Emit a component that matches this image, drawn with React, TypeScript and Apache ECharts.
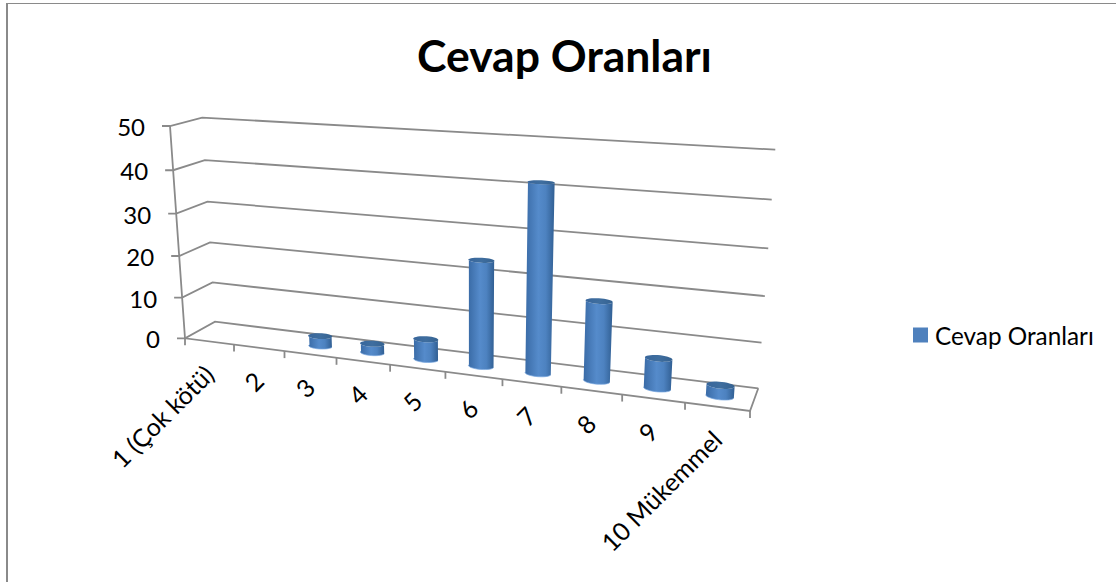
import React, { useEffect, useRef } from "react";
import * as echarts from "echarts";

const chartTitle = "Cevap Oranları";
const seriesName = "Cevap Oranları";
const categories = ["1 (Çok kötü)", "2", "3", "4", "5", "6", "7", "8", "9", "10 Mükemmel"];
const answerRates = [0, 0, 2.4, 2.1, 4.7, 24, 41.8, 17.6, 6.6, 2.4];
const valueTicks = [0, 10, 20, 30, 40, 50];

const FONT = "Lato, Carlito, sans-serif";
const GREY = "#8a8a8a";
const V_CENTER = 0.45;
const U_NUDGE = -0.003;
const BAR_RADIUS_BANDS = 0.22;
const BAR_RADIUS_DEPTH = 0.15;

// Projective map of the unit box (u along categories, v depth, w value) on to the page.
function project(u: number, v: number, w: number): [number, number] {
  const d = 1 - 0.145 * u + 0.0422 * v - 0.05 * w;
  const x = (456.25 * u + 39.07 * v - 23.5 * w + 185) / d;
  const y = (13.1 * u - 3.02 * v - 218.6 * w + 338.3) / d - 3.5 * u * w;
  return [x, y];
}

function toUnit(params: any, api: any, cat: number, val: number) {
  const cs = params.coordSys;
  const p = api.coord([cat, val]);
  return { u: (p[0] - cs.x) / cs.width, w: 1 - (p[1] - cs.y) / cs.height, band: api.size([1, 0])[0] / cs.width };
}

const lineStyle = { stroke: GREY, lineWidth: 1.8, fill: "none" };

function renderValueTick(params: any, api: any) {
  const tick = api.value(1);
  const { w } = toUnit(params, api, 0, tick);
  const a = project(0, 0, w);
  const b = project(0, 1, w);
  const c = project(1, 1, w);
  return {
    type: "group",
    children: [
      { type: "polyline", shape: { points: [[a[0] - 8, a[1]], a, b, c] }, style: lineStyle },
      {
        type: "text",
        style: { x: a[0] - 25, y: a[1] + 0.5, text: String(tick), align: "right", verticalAlign: "middle", fontSize: 24, fontFamily: FONT, fill: "#000" },
      },
    ],
  };
}

function renderCategoryTick(params: any, api: any) {
  const i = api.value(0);
  const { u, band } = toUnit(params, api, i, 0);
  const t = project(u - band / 2, 0, 0);
  const m = project(u, 0, 0);
  const children: any[] = [
    { type: "line", shape: { x1: t[0], y1: t[1], x2: t[0], y2: t[1] + 7 }, style: lineStyle },
    {
      type: "text",
      x: m[0] - 0.5,
      y: m[1] + 28,
      rotation: Math.PI / 4,
      style: { x: 0, y: 0, text: categories[i], align: "right", verticalAlign: "middle", fontSize: 25, fontFamily: FONT, fill: "#000" },
    },
  ];
  if (i === categories.length - 1) {
    const e = project(u + band / 2, 0, 0);
    children.push({ type: "line", shape: { x1: e[0], y1: e[1], x2: e[0], y2: e[1] + 7 }, style: lineStyle });
  }
  return { type: "group", children };
}

function renderFrame() {
  return {
    type: "group",
    children: [
      { type: "polyline", shape: { points: [project(0, 0, 1), project(0, 0, 0), project(1, 0, 0), project(1, 1, 0)] }, style: lineStyle },
    ],
  };
}

function ellipse(u: number, w: number, ru: number, from: number, to: number, n: number) {
  const pts: [number, number][] = [];
  for (let k = 0; k <= n; k++) {
    const t = from + ((to - from) * k) / n;
    pts.push(project(u + U_NUDGE + ru * Math.cos(t), V_CENTER + BAR_RADIUS_DEPTH * Math.sin(t), w));
  }
  return pts;
}

function renderCylinder(params: any, api: any) {
  const i = api.value(0);
  const val = api.value(1);
  if (!val) return null;
  const { u, w, band } = toUnit(params, api, i, val);
  const ru = band * BAR_RADIUS_BANDS;
  const front = ellipse(u, 0, ru, Math.PI, 2 * Math.PI, 16);
  const topFront = ellipse(u, w, ru, 2 * Math.PI, Math.PI, 16);
  const cap = ellipse(u, w, ru, 0, 2 * Math.PI, 32);
  return {
    type: "group",
    children: [
      {
        type: "polygon",
        shape: { points: [...front, ...topFront] },
        style: {
          fill: new echarts.graphic.LinearGradient(0, 0, 1, 0, [
            { offset: 0, color: "#3a6ba6" },
            { offset: 0.45, color: "#558bcb" },
            { offset: 0.7, color: "#4d82c0" },
            { offset: 1, color: "#315f93" },
          ]),
        },
      },
      { type: "polyline", shape: { points: front }, style: { stroke: "#7aa8e0", lineWidth: 1, fill: "none", opacity: 0.7 } },
      {
        type: "polygon",
        shape: { points: cap },
        style: {
          fill: new echarts.graphic.LinearGradient(0, 0, 1, 0, [
            { offset: 0, color: "#38669b" },
            { offset: 0.5, color: "#3f6e9f" },
            { offset: 1, color: "#356291" },
          ]),
        },
      },
    ],
  };
}

export default function App() {
  const ref = useRef<HTMLDivElement>(null);
  useEffect(() => {
    const chart = echarts.init(ref.current!, undefined, { renderer: "svg" });
    chart.setOption({
      animation: false,
      backgroundColor: "#fff",
      title: {
        text: chartTitle,
        left: 559.5,
        top: 27,
        textAlign: "center",
        textStyle: { fontFamily: FONT, fontWeight: "bold", fontSize: 44.5, color: "#000" },
      },
      legend: {
        data: [{ name: seriesName, icon: "rect" }],
        left: 913,
        top: 323,
        itemWidth: 15,
        itemHeight: 15,
        itemGap: 6,
        textStyle: { fontFamily: FONT, fontSize: 24.3, color: "#000", padding: [0, 0, 0, 2] },
        padding: 0,
      },
      grid: { left: 100, top: 100, width: 800, height: 400, show: false },
      xAxis: { type: "category", data: categories, show: false },
      yAxis: { type: "value", min: 0, max: 50, interval: 10, show: false },
      graphic: [
        { type: "line", silent: true, shape: { x1: 6, y1: 3.5, x2: 1116, y2: 3.5 }, style: { stroke: "#8a8a8a", lineWidth: 1 } },
        { type: "line", silent: true, shape: { x1: 7, y1: 3, x2: 7, y2: 582 }, style: { stroke: "#8a8a8a", lineWidth: 2 } },
      ],
      series: [
        { type: "custom", name: "frame", silent: true, clip: false, renderItem: renderFrame, data: [[0, 0]], z: 1 },
        { type: "custom", name: "values", silent: true, clip: false, renderItem: renderValueTick, data: valueTicks.map((t) => [0, t]), encode: { x: 0, y: 1 }, z: 2 },
        { type: "custom", name: "cats", silent: true, clip: false, renderItem: renderCategoryTick, data: categories.map((_, i) => [i, 0]), encode: { x: 0, y: 1 }, z: 2 },
        {
          type: "custom",
          name: seriesName,
          silent: true,
          clip: false,
          renderItem: renderCylinder,
          data: answerRates.map((v, i) => [i, v]),
          encode: { x: 0, y: 1 },
          itemStyle: { color: "#4F81BD" },
          z: 3,
        },
      ],
    });
    return () => chart.dispose();
  }, []);
  return <div ref={ref} style={{ position: "absolute", left: 0, top: 0, width: 1116, height: 582 }} />;
}
